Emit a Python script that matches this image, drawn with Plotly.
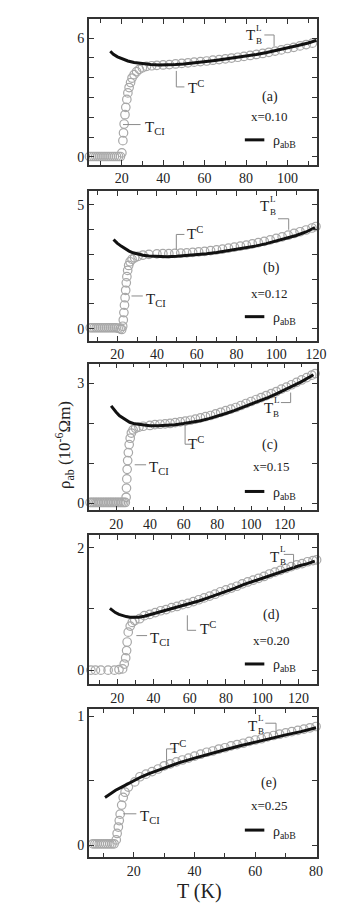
import plotly.graph_objects as go

# ---------------- data ----------------
# panel (a) x=0.10
Ta_circ = [4.5, 5.5, 6.5, 7.5, 8.5, 9.5, 10.5, 11.5, 12.5, 13.5, 14.5, 15.5, 16.5, 17.5, 18.5, 19.4,
           20.1, 20.6, 20.9, 21.2, 21.6, 22.0, 22.5, 23.0, 23.6, 24.3, 25.0, 26.0, 27.2, 28.5, 30.0, 32.0, 34.5, 37, 40,
           43, 46, 49, 52, 55, 58, 61, 64, 67, 70, 73, 76, 79, 82, 85, 88, 91, 94, 97, 100, 103, 106, 109, 112, 114.5]
ya_circ = [0.02] * 16 + [0.2, 0.82, 1.21, 1.66, 2.13, 2.5, 2.9, 3.23, 3.5, 3.75, 3.98, 4.15, 4.3, 4.42, 4.5, 4.57, 4.6, 4.62, 4.64,
           4.66, 4.69, 4.72, 4.75, 4.78, 4.81, 4.84, 4.88, 4.91, 4.95, 4.99, 5.03, 5.07, 5.12, 5.17, 5.22, 5.28, 5.34, 5.4,
           5.47, 5.53, 5.6, 5.67, 5.74, 5.86]
Ta_line = [14.5, 16, 18, 20, 23, 26, 30, 34, 38, 42, 46, 50, 55, 60, 65, 70, 75, 80, 85, 90, 95, 100, 105, 110, 114]
ya_line = [5.33, 5.18, 5.05, 4.95, 4.84, 4.76, 4.7, 4.66, 4.64, 4.64, 4.66, 4.69, 4.74, 4.8, 4.87, 4.94, 5.01, 5.08,
           5.17, 5.27, 5.38, 5.5, 5.62, 5.75, 5.88]

# panel (b) x=0.12
Tb_circ = [6.5, 7.5, 8.5, 9.5, 10.5, 11.5, 12.5, 13.5, 14.5, 15.5, 16.5, 17.5, 18.5, 19.5, 20.5, 21.5, 22.3,
           22.8, 23.1, 23.4, 23.7, 24.0, 24.3, 24.6, 24.9, 25.3, 25.8, 26.5, 27.5, 28.8, 30.5, 33, 36, 40,
           43, 46, 49, 52, 55, 58, 61, 64, 67, 70, 73, 76, 79, 82, 85, 88, 91, 94, 97, 100, 103, 106, 109, 112, 115, 118, 120]
yb_circ = [0.04] * 14 + [0.02, 0.0, -0.03,
           0.1, 0.35, 0.65, 0.95, 1.25, 1.55, 1.85, 2.1, 2.35, 2.55, 2.7, 2.8, 2.86, 2.92, 2.97, 3.0, 3.02,
           3.03, 3.03, 3.04, 3.05, 3.06, 3.08, 3.1, 3.12, 3.15, 3.18, 3.21, 3.25, 3.29, 3.33, 3.37, 3.42, 3.47, 3.52,
           3.58, 3.64, 3.7, 3.77, 3.84, 3.91, 3.98, 4.06, 4.12]
Tb_line = [18.2, 20, 22, 24, 26, 28, 30, 33, 36, 40, 45, 50, 55, 60, 65, 70, 75, 80, 85, 90, 95, 100, 105, 110, 115, 119.5]
yb_line = [3.6, 3.45, 3.33, 3.22, 3.13, 3.06, 3.01, 2.96, 2.93, 2.91, 2.9, 2.92, 2.95, 2.98, 3.02, 3.07, 3.13, 3.19,
           3.26, 3.34, 3.43, 3.53, 3.64, 3.76, 3.9, 4.08]

# panel (c) x=0.15
Tc_circ = [4.5, 5.5, 6.5, 7.5, 8.5, 9.5, 10.5, 11.5, 12.5, 13.5, 14.5, 15.5, 16.5, 17.5, 18.5, 19.5, 20.5, 21.5, 22.5,
           23.5, 24.5, 25.4,
           25.9, 26.1, 26.3, 26.5, 26.8, 27.2, 27.7, 28.3, 29.0, 30.0, 31.5, 33.5, 36, 40,
           43, 46, 49, 52, 55, 58, 61, 64, 67, 70, 73, 76, 79, 82, 85, 88, 91, 94, 97, 100, 103, 106, 109, 112, 115,
           118, 121, 124, 127, 130, 133, 136, 138]
yc_circ = [0.02] * 22 + [0.15, 0.38, 0.61, 0.85, 1.07, 1.27, 1.47, 1.63, 1.76, 1.84, 1.88, 1.91, 1.93, 1.95,
           1.97, 1.98, 1.99, 2.0, 2.02, 2.04, 2.06, 2.08, 2.11, 2.14, 2.17, 2.2, 2.24, 2.28, 2.32, 2.36, 2.4, 2.45,
           2.5, 2.55, 2.6, 2.65, 2.7, 2.75, 2.8, 2.86, 2.91, 2.97, 3.03, 3.09, 3.15, 3.21, 3.25]
Tc_line = [17, 18.5, 20, 22, 25, 28, 31, 35, 40, 45, 50, 55, 60, 65, 70, 75, 80, 85, 90, 95, 100, 105, 110, 115, 120,
           125, 130, 137]
yc_line = [2.44, 2.35, 2.28, 2.19, 2.1, 2.03, 1.99, 1.96, 1.94, 1.94, 1.95, 1.97, 2.0, 2.03, 2.07, 2.12, 2.18, 2.25,
           2.32, 2.4, 2.48, 2.56, 2.65, 2.74, 2.84, 2.94, 3.05, 3.22]

# panel (d) x=0.20
Td_circ = [5.5, 8, 11, 15, 18.5, 21, 23,
           23.9, 24.7, 25.2, 25.5, 26.1, 27.2, 28.3, 29.7, 32.4,
           35, 38, 41, 44, 47, 50, 53, 56, 59, 62, 65, 68, 71, 74, 77, 80, 83, 86, 89, 92, 95, 98, 101, 104, 107,
           110, 113, 116, 119, 122, 125, 128, 130]
yd_circ = [0.0, 0.0, 0.0, 0.0, 0.0, 0.01, 0.02,
           0.1, 0.2, 0.32, 0.46, 0.62, 0.72, 0.78, 0.81, 0.84,
           0.89, 0.91, 0.94, 0.97, 0.99, 1.02, 1.04, 1.07, 1.09, 1.12, 1.15, 1.18, 1.21, 1.24, 1.28, 1.31, 1.34,
           1.37, 1.41, 1.44, 1.47, 1.5, 1.53, 1.57, 1.6, 1.63, 1.66, 1.69, 1.72, 1.74, 1.77, 1.79, 1.8]
Td_line = [16, 17.5, 19, 21, 23, 25, 27, 29, 32, 35, 40, 45, 50, 55, 60, 65, 70, 75, 80, 85, 90, 95, 100, 105, 110,
           115, 120, 125, 129]
yd_line = [1.01, 0.97, 0.94, 0.91, 0.89, 0.875, 0.865, 0.86, 0.865, 0.88, 0.92, 0.96, 1.0, 1.04, 1.08, 1.13, 1.18,
           1.23, 1.29, 1.34, 1.4, 1.45, 1.51, 1.56, 1.61, 1.66, 1.7, 1.74, 1.78]

# panel (e) x=0.25
Te_circ = [6.5, 7.2, 7.9, 8.6, 9.3, 10.0, 10.7, 11.4, 12.1, 12.8, 13.5,
           14.2, 14.5, 14.9, 15.2, 15.5, 16.0, 16.5, 17.1, 18.2, 20.3,
           22, 24, 26, 28, 30, 32, 34, 36, 38, 40, 42, 44, 46, 48, 50, 52, 54, 56, 58, 60, 62, 64, 66, 68, 70, 72,
           74, 76, 78, 80]
ye_circ = [0.01] * 11 + [0.04, 0.09, 0.14, 0.19, 0.24, 0.31, 0.37, 0.41, 0.45, 0.49,
           0.53, 0.55, 0.57, 0.59, 0.615, 0.63, 0.645, 0.66, 0.675, 0.69, 0.705, 0.72, 0.73, 0.745, 0.755, 0.77,
           0.78, 0.79, 0.805, 0.815, 0.825, 0.84, 0.85, 0.86, 0.87, 0.88, 0.89, 0.9, 0.91, 0.92]
Te_line = [10.5, 12, 14, 16, 18, 20, 22.5, 25, 30, 35, 40, 45, 50, 55, 60, 65, 70, 75, 80]
ye_line = [0.37, 0.395, 0.425, 0.45, 0.475, 0.5, 0.53, 0.555, 0.6, 0.64, 0.675, 0.71, 0.74, 0.77, 0.8, 0.83, 0.855,
           0.88, 0.91]

panel_letters = ["(a)", "(b)", "(c)", "(d)", "(e)"]
x_values = ["x=0.10", "x=0.12", "x=0.15", "x=0.20", "x=0.25"]
x_ticks = [[20, 40, 60, 80, 100], [20, 40, 60, 80, 100, 120], [20, 40, 60, 80, 100, 120],
           [20, 40, 60, 80, 100, 120], [20, 40, 60, 80]]
y_ticks = [[0, 6], [0, 5], [0, 3], [0, 2], [0, 1]]

# ---------------- layout geometry (pixels) ----------------
W, H = 355, 904
FONT = "Liberation Serif"

panels = [
    dict(tc=Ta_circ, yc=ya_circ, tl=Ta_line, yl=ya_line, xr=[4.2, 114.2], yr=[-0.40, 6.96], top=11, bot=157, ydt=1),
    dict(tc=Tb_circ, yc=yb_circ, tl=Tb_line, yl=yb_line, xr=[5.8, 120.5], yr=[-0.48, 5.56], top=183, bot=333, ydt=1),
    dict(tc=Tc_circ, yc=yc_circ, tl=Tc_line, yl=yc_line, xr=[3.8, 139.1], yr=[-0.18, 3.5], top=356, bot=503, ydt=1),
    dict(tc=Td_circ, yc=yd_circ, tl=Td_line, yl=yd_line, xr=[4.4, 130.2], yr=[-0.23, 2.2], top=528, bot=677, ydt=1),
    dict(tc=Te_circ, yc=ye_circ, tl=Te_line, yl=ye_line, xr=[5.2, 80.3], yr=[-0.093, 1.054], top=702, bot=850, ydt=0.5),
]
LEFT, RIGHT = 83, 317


def px(x, y):
    return x / W, 1 - y / H


fig = go.Figure()
layout = dict(width=W, height=H, autosize=False, margin=dict(l=0, r=0, t=0, b=0),
              paper_bgcolor="white", plot_bgcolor="white", showlegend=False,
              font=dict(family=FONT, color="#222"))

axis_common = dict(showgrid=False, zeroline=False, showline=True, linecolor="#333", linewidth=1.6,
                   mirror="allticks", ticks="inside", ticklen=5, tickwidth=1.2, tickcolor="#333",
                   tickfont=dict(family=FONT, size=14, color="#222"))

for i, p in enumerate(panels):
    sfx = "" if i == 0 else str(i + 1)
    fig.add_trace(go.Scatter(x=p["tc"], y=p["yc"], mode="markers", cliponaxis=False,
                             marker=dict(symbol="circle-open", size=8.5, color="#a8a8a8", line=dict(width=1.2)),
                             xaxis="x" + sfx, yaxis="y" + sfx, hoverinfo="skip"))
    fig.add_trace(go.Scatter(x=p["tl"], y=p["yl"], mode="lines", line=dict(color="#111", width=3),
                             xaxis="x" + sfx, yaxis="y" + sfx, hoverinfo="skip"))
    layout["xaxis" + sfx] = dict(axis_common, domain=[LEFT / W, RIGHT / W], range=p["xr"],
                                 anchor="y" + sfx, tickvals=x_ticks[i],
                                 minor=dict(dtick=10, tick0=0, ticks="inside", ticklen=4, tickcolor="#333"))
    layout["yaxis" + sfx] = dict(axis_common, domain=[1 - p["bot"] / H, 1 - p["top"] / H], range=p["yr"],
                                 anchor="x" + sfx, tickvals=y_ticks[i],
                                 minor=dict(dtick=p["ydt"], tick0=0, ticks="inside", ticklen=5, tickcolor="#333"))

fig.update_layout(**layout)

annotations = []
shapes = []


def text(x, y, s, size=14, xanchor="center", yanchor="middle", color="#222", angle=0):
    ax, ay = px(x, y)
    annotations.append(dict(x=ax, y=ay, xref="paper", yref="paper", text=s, showarrow=False,
                            xanchor=xanchor, yanchor=yanchor, textangle=angle,
                            font=dict(family=FONT, size=size, color=color)))


def seg(pts, color="#8a8a8a", width=1):
    for (x0, y0), (x1, y1) in zip(pts[:-1], pts[1:]):
        a0, b0 = px(x0, y0)
        a1, b1 = px(x1, y1)
        shapes.append(dict(type="line", xref="paper", yref="paper", x0=a0, y0=b0, x1=a1, y1=b1,
                           line=dict(color=color, width=width)))


# per-panel annotation positions (pixels)
ann = [
    dict(TB=(249, 27), L=(258, 20), B=(258, 33), tbl=[(263, 27), (273, 27), (273, 38)],
         TC=(183, 79), tcl=[(172.7, 63), (172.7, 79), (181, 79)],
         TCI=(138, 120), tcil=[(118, 116.7), (136, 116.7)],
         let=(269, 89), xv=(268, 109), leg=132),
    dict(TB=(263, 198), L=(272, 191), B=(272, 204), tbl=[(277, 211), (288, 211), (288, 222)],
         TC=(182, 225), tcl=[(181, 226.7), (172.7, 226.7), (172.7, 241.7)],
         TCI=(140, 292), tcil=[(126.7, 288.3), (138.3, 288.3)],
         let=(270, 260), xv=(268, 286), leg=309),
    dict(TB=(267, 400), L=(276, 392), B=(275, 406), tbl=[(280, 395), (290, 395), (290, 385)],
         TC=(183, 435), tcl=[(181.7, 416.7), (181.7, 436.7), (190, 436.7)],
         TCI=(143, 461), tcil=[(130, 457.3), (141.7, 457.3)],
         let=(269, 437), xv=(270, 459), leg=484),
    dict(TB=(273, 550), L=(282, 542), B=(282, 555), tbl=[(283, 547), (293, 547), (293, 560)],
         TC=(195, 621), tcl=[(184, 608), (184, 623), (193, 623)],
         TCI=(144, 632), tcil=[(131.7, 628.3), (142.7, 628.3)],
         let=(270, 608), xv=(270, 633), leg=656.7),
    dict(TB=(251, 719), L=(260, 711), B=(260, 724), tbl=[(264, 716), (275, 716), (275, 727)],
         TC=(164, 740), tcl=[(172, 741.7), (162.7, 741.7), (162.7, 758)],
         TCI=(133, 810), tcil=[(118.3, 806.7), (131.7, 806.7)],
         let=(268, 776), xv=(268, 798), leg=823),
]

for i, a in enumerate(ann):
    text(*a["TB"], "T", size=15)
    text(*a["L"], "L", size=9)
    text(*a["B"], "B", size=9)
    seg(a["tbl"])
    text(a["TC"][0], a["TC"][1], "T<sup>C</sup>", size=15, xanchor="left")
    seg(a["tcl"])
    text(a["TCI"][0], a["TCI"][1], "T<sub>CI</sub>", size=15, xanchor="left")
    seg(a["tcil"])
    text(*a["let"], panel_letters[i], size=14)
    text(*a["xv"], x_values[i], size=13)
    seg([(243, a["leg"]), (263, a["leg"])], color="#111", width=3)
    text(270, a["leg"] + 2, "ρ<sub>abB</sub>", size=14, xanchor="left")

text(58, 438, "ρ<sub>ab</sub> (10<sup>-6</sup>Ωm)", size=17, angle=-90)
text(196, 884, "T (K)", size=20)

fig.update_layout(annotations=annotations, shapes=shapes)
fig.write_html("out.html")
